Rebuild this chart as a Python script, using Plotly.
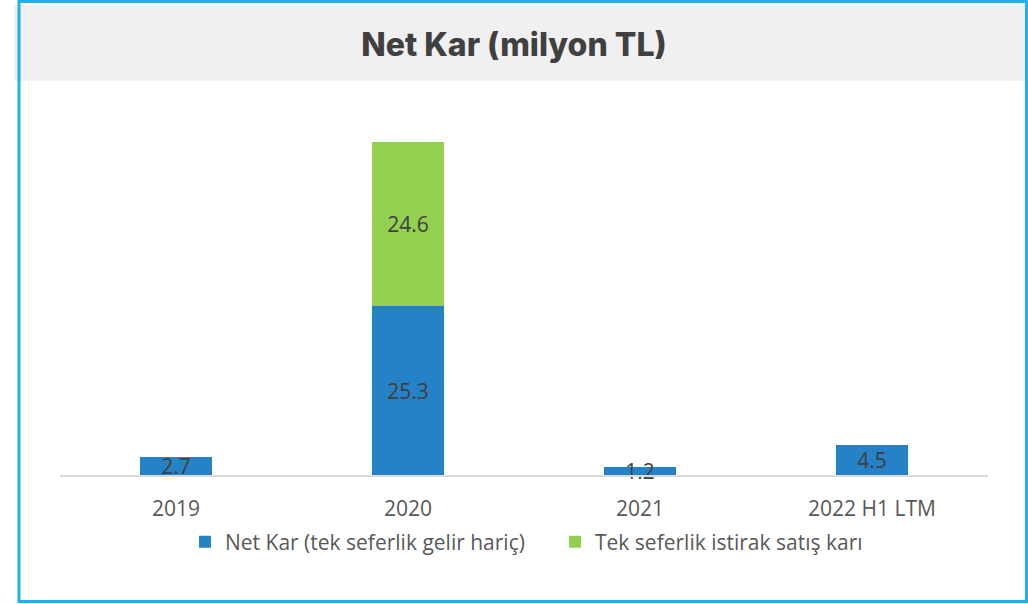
import plotly.graph_objects as go

categories = ["2019", "2020", "2021", "2022 H1 LTM"]
net_kar = [2.7, 25.3, 1.2, 4.5]
tek_seferlik = [None, 24.6, None, None]
series_names = ["Net Kar (tek seferlik gelir hariç)", "Tek seferlik istirak satış karı"]
title_text = "Net Kar (milyon TL)"

W, H = 1028, 604
L, R, T, B = 60, 40, 141, 129
plot_w = W - L - R
plot_h = H - T - B

def px(x):
    return (x - L) / plot_w

def py(y):
    return (H - B - y) / plot_h

FONT = "Open Sans, sans-serif"
label_font = dict(family=FONT, size=21, color="#404040")

fig = go.Figure()
fig.add_trace(go.Bar(
    x=categories, y=net_kar, name=series_names[0],
    marker=dict(color="#2682C6", line=dict(width=0)),
    text=[f"{v:.1f}" for v in net_kar],
    textposition="inside", insidetextanchor="middle", textangle=0,
    constraintext="none", textfont=label_font, cliponaxis=False,
    hoverinfo="skip",
))
fig.add_trace(go.Bar(
    x=categories, y=tek_seferlik, name=series_names[1],
    marker=dict(color="#92D050", line=dict(width=0)),
    text=[f"{v:.1f}" if v is not None else "" for v in tek_seferlik],
    textposition="inside", insidetextanchor="middle", textangle=0,
    constraintext="none", textfont=label_font, cliponaxis=False,
    hoverinfo="skip",
))

shapes = [
    # grey title band
    dict(type="rect", xref="paper", yref="paper",
         x0=px(14), x1=px(1028), y0=py(81), y1=py(5),
         fillcolor="#F0F0F0", line=dict(width=0), layer="below"),
    # outer border
    dict(type="rect", xref="paper", yref="paper",
         x0=px(19), x1=px(1026.5), y0=py(601.5), y1=py(1.5),
         fillcolor="rgba(0,0,0,0)", line=dict(color="#1FB2E8", width=3)),
]

fig.update_layout(
    width=W, height=H,
    margin=dict(l=L, r=R, t=T, b=B),
    paper_bgcolor="white", plot_bgcolor="white",
    barmode="stack", bargap=0.69,
    showlegend=True,
    legend=dict(orientation="h", x=px(185), xanchor="left",
                y=py(542), yanchor="middle", entrywidth=325,
                font=dict(family=FONT, size=21, color="#595959"),
                traceorder="normal", itemclick=False, itemdoubleclick=False),
    title=dict(text=title_text, x=0.5, xanchor="center", y=1 - 45 / H, yanchor="middle",
               font=dict(family="Inter, Noto Sans, sans-serif", size=32, color="#404040", weight=800)),
    xaxis=dict(showline=True, linecolor="#D9D9D9", linewidth=1.5, ticks="",
               tickfont=dict(family=FONT, size=21, color="#595959"),
               ticklabelstandoff=14, showgrid=False, fixedrange=True),
    yaxis=dict(range=[0, 50], visible=False, showgrid=False, zeroline=False, fixedrange=True),
    shapes=shapes,
)

fig.write_html("out.html", config={"displayModeBar": False},
               post_script="document.body.style.margin='0';document.body.style.padding='0';")
